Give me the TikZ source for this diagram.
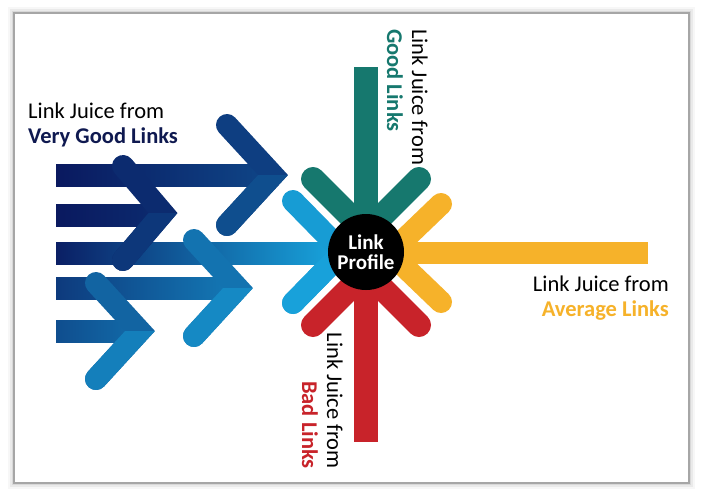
\documentclass[tikz,border=0pt]{standalone}
\usepackage{fontspec}
\setmainfont{Carlito}
\tikzset{
  chev/.style={line width=\aw, line cap=round, line join=miter},
  lbl/.style={inner sep=0pt, font=\fontsize{22.5}{25}\selectfont}
}
\begin{document}
\begin{tikzpicture}[x=1pt,y=-1pt]
\def\aw{22}
\def\tw{24}
\definecolor{cNavy}{RGB}{10,25,95}
\definecolor{cCyan}{RGB}{25,175,230}
\definecolor{cTeal}{RGB}{22,120,110}
\definecolor{cGold}{RGB}{246,178,42}
\definecolor{cRed}{RGB}{200,35,42}
\definecolor{cNavyT}{RGB}{15,25,80}

\useasboundingbox (0,0) rectangle (704,496);
\foreach \w/\op in {12/0.03, 8/0.05, 4/0.08}{
  \draw[black, opacity=\op, line width=\w] (14,13) rectangle (689,483);
}
\draw[fill=white, draw=black!35, line width=1.5] (14,13) rectangle (689,483);

\foreach \y/\xe/\pa/\pb in {175/273/0/30, 215/163/0/12, 331/140/35/55, 288/238/22/65, 253/343/4/95}{
  \shade[left color=cCyan!\pa!cNavy, right color=cCyan!\pb!cNavy] (56,\y-11) rectangle (\xe,\y+11);
}
\foreach \vx/\vy/\ax/\ay/\pu/\pl in {140/331/44/48/50/68, 238/288/44/48/60/75, 163/213/40/47/12/20, 273/175/46/50/25/35, 343/252/50/51/87/91}{
  \draw[chev, cCyan!\pu!cNavy] (\vx-\ax,\vy-\ay) -- (\vx,\vy) -- (\vx-\ax,\vy+\ay);
  \begin{scope}
    \clip (\vx-\ax-20,\vy) rectangle (\vx+30,\vy+\ay+20);
    \draw[chev, cCyan!\pl!cNavy] (\vx-\ax,\vy-\ay) -- (\vx,\vy) -- (\vx-\ax,\vy+\ay);
  \end{scope}
}

\fill[cTeal] (354,67) rectangle (378,232);
\draw[chev, line width=\tw, cTeal] (313,179) -- (366,232) -- (419,179);
\fill[cGold] (390,242) rectangle (648,264);
\draw[chev, cGold] (441,204) -- (390,253) -- (441,302);
\fill[cRed] (354,272) rectangle (378,442);
\draw[chev, line width=\tw, cRed] (313,325) -- (366,272) -- (419,325);

\node[circle, fill=black, minimum size=76, inner sep=0pt, align=center, text=white,
  font=\fontsize{21}{20}\selectfont\bfseries] (profile) at (366,252) {Link\\Profile};

\node[lbl, anchor=north west, align=left] (vgood) at (28,103) {Link Juice from\\\textbf{\color{cNavyT}Very Good Links}};
\node[lbl, anchor=north east, align=right] (avg) at (669,276) {Link Juice from\\\textbf{\color{cGold}Average Links}};
\node[lbl, rotate=-90, anchor=north west, align=left] (good) at (428,29) {Link Juice from\\\textbf{\color{cTeal}Good Links}};
\node[lbl, rotate=-90, anchor=north east, align=right] (bad) at (343,469) {Link Juice from\\\textbf{\color{cRed}Bad Links}};
\end{tikzpicture}
\end{document}
